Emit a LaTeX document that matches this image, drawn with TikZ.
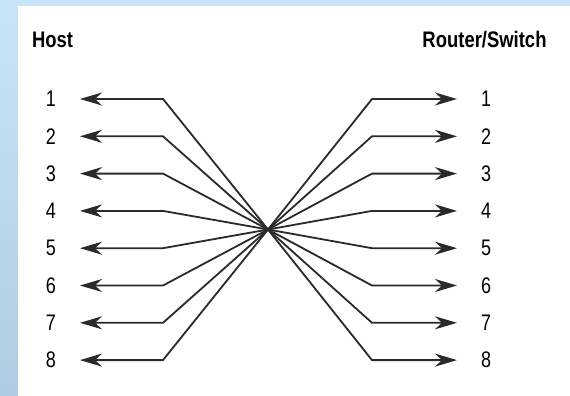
\documentclass[tikz,border=0pt]{standalone}
\usepackage{fontspec}
\setmainfont[FakeStretch=0.8]{Liberation Sans}
\newfontfamily\headfont[FakeStretch=0.82]{Liberation Sans}
\usetikzlibrary{arrows.meta}
\definecolor{frametop}{HTML}{C6E5F8}
\definecolor{framebot}{HTML}{AECDE2}
\definecolor{wire}{HTML}{2A2A2A}
\tikzset{
  x=1pt, y=-1pt,
  heading/.style={inner sep=0pt, anchor=base, font=\headfont\fontsize{22.5}{22.5}\selectfont\bfseries},
  pin/.style={inner sep=0pt, outer xsep=24pt, font=\fontsize{22.5}{22.5}\selectfont},
  wireline/.style={draw=wire, line width=1.8pt, line join=round,
    -{Stealth[length=22pt, width=13pt, inset=7pt]}},
}
\begin{document}
\begin{tikzpicture}
  % frame and panel
  \useasboundingbox (0,0) rectangle (570,396);
  \shade[top color=frametop, bottom color=framebot] (0,0) rectangle (18,396);
  \fill[frametop] (18,0) rectangle (570,6);
  \fill[white] (18,6) rectangle (570,396);

  % headings
  \node[heading] (host) at (52.5,48) {Host};
  \node[heading] (rs) at (484.5,48) {Router/Switch};

  % crossing point of all wires
  \coordinate (ctr) at (268,229.5);

  \foreach \i in {1,...,8} {
    \pgfmathsetmacro{\yy}{99+37.3*(\i-1)}
    \node[pin] (L\i) at (51,\yy) {\i};
    \node[pin] (R\i) at (486,\yy) {\i};
    \coordinate (kl\i) at (163,\yy);
    \coordinate (kr\i) at (372,\yy);
    \draw[wireline] (ctr) -- (kl\i) -- (L\i.east);
    \draw[wireline] (ctr) -- (kr\i) -- (R\i.west);
  }
\end{tikzpicture}
\end{document}
